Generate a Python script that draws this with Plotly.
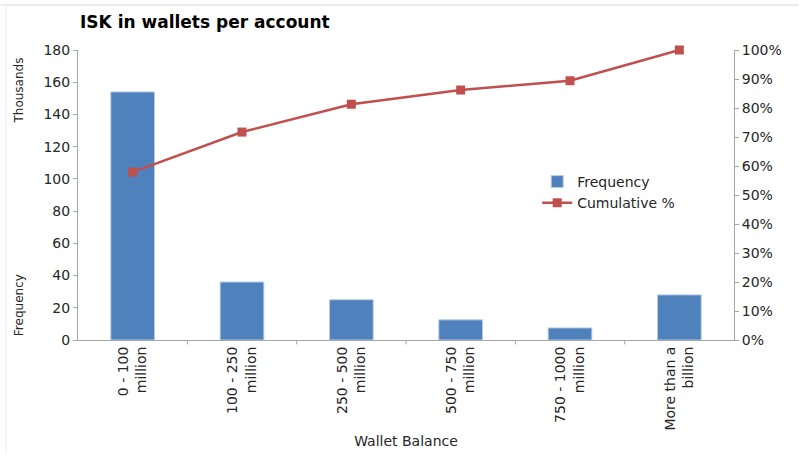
import plotly.graph_objects as go

categories = ["0 - 100<br>million", "100 - 250<br>million", "250 - 500<br>million",
              "500 - 750<br>million", "750 - 1000<br>million", "More than a<br>billion"]
frequency_thousands = [154, 36, 25, 12.5, 7.5, 28]
cumulative_pct = [0.579, 0.717, 0.813, 0.862, 0.894, 1.0]

FONT = "DejaVu Sans"
TXT = "#262626"
AX = "#A6A6A6"

fig = go.Figure()
fig.add_trace(go.Bar(x=categories, y=frequency_thousands, name="Frequency",
                     marker=dict(color="#4F81BD", line=dict(color="#B9CDE5", width=1)),
                     width=0.4, yaxis="y"))
fig.add_trace(go.Scatter(x=categories, y=cumulative_pct, name="Cumulative %",
                         mode="lines+markers", cliponaxis=False,
                         line=dict(color="#C0504D", width=2.5),
                         marker=dict(symbol="square", size=9, color="#C0504D"),
                         yaxis="y2"))

fig.update_layout(
    width=799, height=457,
    margin=dict(l=78, r=65, t=50, b=117),
    paper_bgcolor="white", plot_bgcolor="white",
    font=dict(family=FONT, size=13, color=TXT),
    showlegend=True,
    legend=dict(x=0.70, y=0.60, xanchor="left", yanchor="top",
                bgcolor="rgba(0,0,0,0)", font=dict(size=14, color=TXT),
                traceorder="normal"),
    xaxis=dict(showline=True, linecolor=AX, linewidth=1, ticks="", tickangle=-90,
               tickfont=dict(size=14, color=TXT), showgrid=False,
               title=dict(text="Wallet Balance", font=dict(size=14, color=TXT), standoff=6)),
    yaxis=dict(range=[0, 180], dtick=20, showline=True, linecolor=AX, linewidth=1,
               ticks="outside", ticklen=4, tickcolor=AX, showgrid=False, zeroline=False,
               tickfont=dict(size=14, color=TXT)),
    yaxis2=dict(range=[0, 1], dtick=0.1, tickformat=".0%", overlaying="y", side="right",
                showline=True, linecolor=AX, linewidth=1, ticks="outside", ticklen=4,
                tickcolor=AX, showgrid=False, zeroline=False,
                tickfont=dict(size=14, color=TXT)),
    title=dict(text="<b>ISK in wallets per account</b>", x=80/799, xanchor="left",
               y=1 - 22/457, yanchor="middle", font=dict(size=17, color="#000000")),
)

# category boundary tick marks on x axis
for i in range(1, len(categories)):
    fig.add_shape(type="line", xref="x", yref="paper", x0=i - 0.5, x1=i - 0.5,
                  y0=0, y1=-0.015, line=dict(color=AX, width=1))

fig.add_annotation(text="Thousands", xref="paper", yref="paper", x=-0.09, y=0.86,
                   textangle=-90, showarrow=False, font=dict(size=12, color=TXT),
                   xanchor="center", yanchor="middle")
fig.add_annotation(text="Frequency", xref="paper", yref="paper", x=-0.09, y=0.12,
                   textangle=-90, showarrow=False, font=dict(size=12, color=TXT),
                   xanchor="center", yanchor="middle")

# faint frame lines
fig.add_shape(type="line", xref="paper", yref="paper", x0=-78/656, x1=(799 - 78) / 656,
              y0=1 + 45/290, y1=1 + 45/290, line=dict(color="#D9D9D9", width=1))
fig.add_shape(type="line", xref="paper", yref="paper", x0=-72/656, x1=-72/656,
              y0=1 + 45/290, y1=-113/290, line=dict(color="#EBEBEB", width=1))

fig.write_html("out.html")
